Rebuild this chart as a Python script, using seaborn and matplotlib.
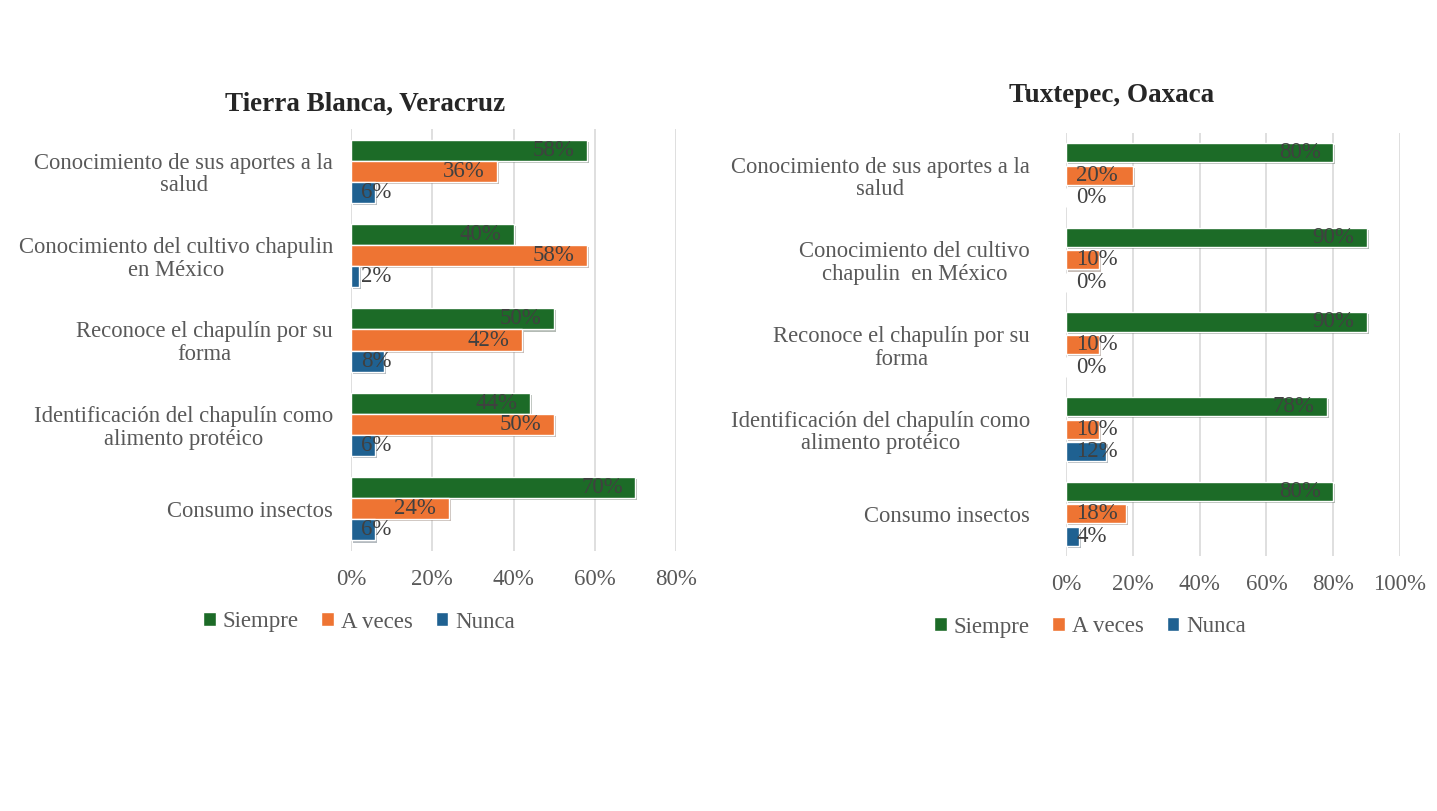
import numpy as np
import pandas as pd
import matplotlib.pyplot as plt
import seaborn as sns
import matplotlib.patheffects as pe
from matplotlib.patches import Patch

series = ['Siempre', 'A veces', 'Nunca']
colors = ['#1c6b27', '#ee7433', '#1f6191']

cats_tb = ['Conocimiento de sus aportes a la\nsalud',
           'Conocimiento del cultivo chapulin\nen México',
           'Reconoce el chapulín por su\nforma',
           'Identificación del chapulín como\nalimento protéico',
           'Consumo insectos']
siempre_tb = [58, 40, 50, 44, 70]
aveces_tb = [36, 58, 42, 50, 24]
nunca_tb = [6, 2, 8, 6, 6]

cats_tx = ['Conocimiento de sus aportes a la\nsalud',
           'Conocimiento del cultivo\nchapulin  en México',
           'Reconoce el chapulín por su\nforma',
           'Identificación del chapulín como\nalimento protéico',
           'Consumo insectos']
siempre_tx = [80, 90, 90, 78, 80]
aveces_tx = [20, 10, 10, 10, 18]
nunca_tx = [0, 0, 0, 12, 4]


def long_df(cats, s, a, n):
    rows = []
    for name, vals in zip(series, [s, a, n]):
        for c, v in zip(cats, vals):
            rows.append({'cat': c, 'serie': name, 'val': v})
    return pd.DataFrame(rows)


df_tb = long_df(cats_tb, siempre_tb, aveces_tb, nunca_tb)
df_tx = long_df(cats_tx, siempre_tx, aveces_tx, nunca_tx)

sns.set_theme(style="white")
plt.rcParams['font.family'] = ['Liberation Serif', 'DejaVu Serif']

W, H = 1437, 811
fig = plt.figure(figsize=(W / 100, H / 100), dpi=100)
fig.patch.set_facecolor('white')

gray = '#595959'
shadow = [pe.SimplePatchShadow(offset=(1.5, -1.5), alpha=0.3), pe.Normal()]


def draw(ax, df, cats, xmax, width, gap, ypad):
    sns.barplot(data=df, y='cat', x='val', hue='serie', order=cats,
                hue_order=series, palette=colors, width=width, gap=gap,
                orient='h', ax=ax, legend=False, saturation=1)
    ax.set_xlim(0, xmax)
    ax.set_xticks(np.arange(0, xmax + 1, 20))
    ax.set_xticklabels([f'{t}%' for t in range(0, xmax + 1, 20)])
    ax.set_xlabel('')
    ax.set_ylabel('')
    for s in ax.spines.values():
        s.set_visible(False)
    ax.grid(axis='x', color='#d9d9d9', linewidth=1.2)
    ax.set_axisbelow(True)
    ax.tick_params(axis='x', length=0, pad=13, labelsize=16.5, labelcolor=gray)
    ax.tick_params(axis='y', length=0, pad=ypad, labelsize=16.3, labelcolor=gray)
    for lab in ax.get_yticklabels():
        lab.set_multialignment('center')
        lab.set_linespacing(1.1)
    # data labels
    px_per_unit = ax.get_window_extent().width / xmax
    for cont in ax.containers:
        for bar, v in zip(cont, cont.datavalues):
            bar.set_path_effects(shadow)
            yc = bar.get_y() + bar.get_height() / 2
            if v * px_per_unit > 70:
                ax.annotate(f'{v:.0f}%', xy=(v, yc), xytext=(-9, 0),
                            textcoords='offset points', ha='right', va='center',
                            fontsize=16.5, color='#404040')
            else:
                ax.annotate(f'{v:.0f}%', xy=(0, yc), xytext=(7.5, 0),
                            textcoords='offset points', ha='left', va='center',
                            fontsize=16.5, color='#404040')


ax1 = fig.add_axes([351 / W, 1 - 551 / H, 325 / W, 422 / H])
draw(ax1, df_tb, cats_tb, 80, 0.75, 0, 13)

ax2 = fig.add_axes([1066 / W, 1 - 556 / H, 334 / W, 423 / H])
draw(ax2, df_tx, cats_tx, 100, 0.8, 0.15, 26)

fig.text(365 / W, 1 - 104 / H, 'Tierra Blanca, Veracruz', ha='center',
         va='center', fontsize=19.5, fontweight='bold', color='#262626')
fig.text(1112 / W, 1 - 95 / H, 'Tuxtepec, Oaxaca', ha='center',
         va='center', fontsize=19.5, fontweight='bold', color='#262626')

handles = [Patch(facecolor=c, label=s) for c, s in zip(colors, series)]
for x, y in [(359, 622), (1090, 627)]:
    fig.legend(handles=handles, loc='center', bbox_to_anchor=(x / W, 1 - y / H),
               ncol=3, frameon=False, fontsize=16.5, handlelength=0.55,
               handleheight=0.55, handletextpad=0.3, columnspacing=1.0,
               labelcolor=gray)

fig.savefig('out.png', dpi=100, facecolor='white')
